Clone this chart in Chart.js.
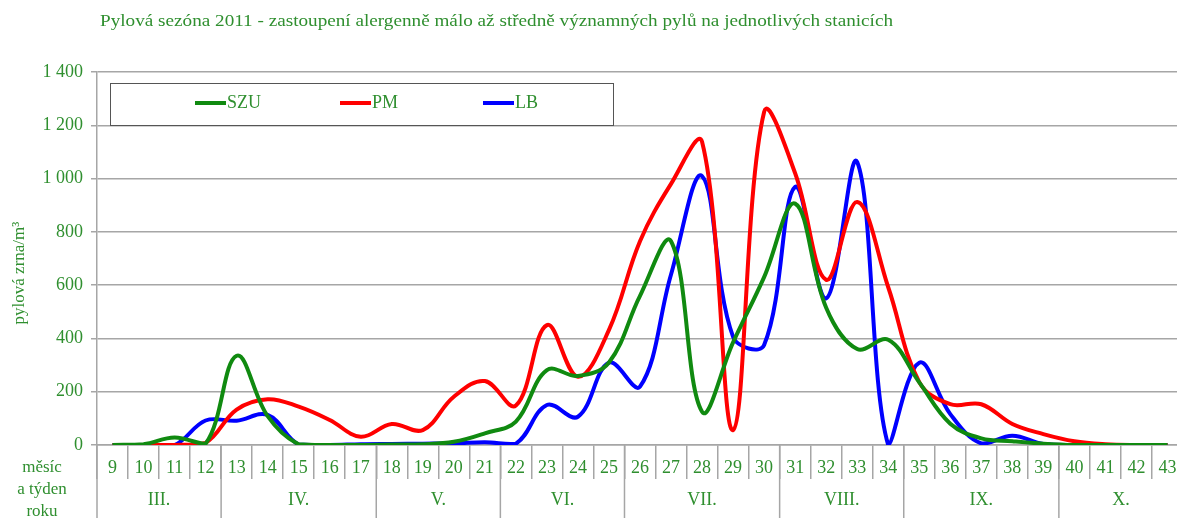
<!DOCTYPE html>
<html><head><meta charset="utf-8">
<script src="https://cdn.jsdelivr.net/npm/chart.js@4.4.0/dist/chart.umd.min.js"></script>
<style>
html,body{margin:0;padding:0;overflow:hidden;background:#fff;width:1177px;height:518px}
#wrap{position:relative;width:1184px;height:518px}
</style></head>
<body><div id="wrap"><canvas id="c" width="1184" height="518"></canvas></div>
<script>
const titleText = 'Pylová sezóna 2011 - zastoupení alergenně málo až středně významných pylů na jednotlivých stanicích';
const yTitle = 'pylová zrna/m³';
const weeks = ['9','10','11','12','13','14','15','16','17','18','19','20','21','22','23','24','25','26','27','28','29','30','31','32','33','34','35','36','37','38','39','40','41','42','43'];
const monthLabels = ['III.','IV.','V.','VI.','VII.','VIII.','IX.','X.'];
const monthFirstWeek = ['9','13','18','22','26','31','35','40'];
const yTicks = [0,200,400,600,800,1000,1200,1400];
const seriesNames = ['SZU','PM','LB'];
const SZU = [0,3,28,5,335,108,3,0,0,2,3,12,44,88,281,259,310,560,765,125,385,630,906,515,360,395,235,80,25,14,5,0,0,0,0];
const PM  = [0,0,0,8,133,172,144,94,31,79,56,181,240,148,450,256,432,765,980,1138,56,1250,1020,620,912,592,236,153,153,79,41,14,3,0,0];
const LB  = [0,0,0,92,91,113,2,0,3,4,5,6,10,5,150,106,309,219,640,1009,406,375,969,550,1062,0,309,116,6,35,4,0,0,0,0];
const lineColors = ['#108a10','#ff0000','#0000ff'];

const textGreen = '#2f8f2f';
const serif = '"Liberation Serif", "DejaVu Serif", serif';
const gridGray = '#a6a6a6';

const decor = {
  id: 'decor',
  afterDraw(chart) {
    const ctx = chart.ctx, ca = chart.chartArea, xs = chart.scales.x;
    ctx.save();
    // title (stretched to the reference's width)
    ctx.fillStyle = textGreen;
    ctx.font = '17px ' + serif;
    ctx.textAlign = 'left';
    ctx.textBaseline = 'alphabetic';
    const w = ctx.measureText(titleText).width;
    ctx.save();
    ctx.translate(100, 26);
    ctx.scale(793 / w, 1);
    ctx.fillText(titleText, 0, 0);
    ctx.restore();
    // y axis title
    ctx.save();
    ctx.translate(20, 273);
    ctx.rotate(-Math.PI / 2);
    ctx.textAlign = 'center';
    ctx.textBaseline = 'middle';
    ctx.font = '17px ' + serif;
    ctx.fillText(yTitle, 0, 0);
    ctx.restore();
    // left labels
    ctx.textAlign = 'center';
    ctx.textBaseline = 'middle';
    ctx.font = '17px ' + serif;
    ['měsíc', 'a týden', 'roku'].forEach((t, i) => ctx.fillText(t, 42, 468 + i * 22));
    // month separators and labels
    const half = (xs.getPixelForValue(1) - xs.getPixelForValue(0)) / 2;
    const starts = monthFirstWeek.map(w => weeks.indexOf(w));
    ctx.strokeStyle = gridGray;
    ctx.lineWidth = 1.5;
    starts.forEach((s, i) => {
      const x0 = xs.getPixelForValue(s) - half;
      const end = i + 1 < starts.length ? starts[i + 1] - 1 : weeks.length - 1;
      const x1 = xs.getPixelForValue(end) + half;
      ctx.beginPath();
      ctx.moveTo(x0, ca.bottom);
      ctx.lineTo(x0, 520);
      ctx.stroke();
      ctx.font = '18px ' + serif;
      ctx.fillStyle = textGreen;
      ctx.fillText(monthLabels[i], (x0 + x1) / 2, 500);
    });
    // legend box
    ctx.fillStyle = '#fff';
    ctx.fillRect(110, 83, 503, 42);
    ctx.strokeStyle = '#555';
    ctx.lineWidth = 1;
    ctx.strokeRect(110.5, 83.5, 503, 42);
    const lx = [195, 340, 483];
    chart.data.datasets.forEach((ds, i) => {
      ctx.strokeStyle = ds.borderColor;
      ctx.lineWidth = 4;
      ctx.beginPath();
      ctx.moveTo(lx[i], 103);
      ctx.lineTo(lx[i] + 31, 103);
      ctx.stroke();
      ctx.fillStyle = textGreen;
      ctx.font = '18px ' + serif;
      ctx.textAlign = 'left';
      ctx.textBaseline = 'middle';
      ctx.fillText(ds.label, lx[i] + 32, 103);
    });
    ctx.restore();
  }
};

const seriesData = [SZU, PM, LB];
new Chart(document.getElementById('c'), {
  type: 'line',
  data: {
    labels: weeks,
    datasets: seriesNames.map((n, i) => ({
      label: n,
      data: seriesData[i],
      borderColor: lineColors[i],
      backgroundColor: lineColors[i],
      borderWidth: 4,
      pointRadius: 0,
      tension: 0.38,
      fill: false
    }))
  },
  options: {
    responsive: false,
    animation: false,
    devicePixelRatio: 1,
    layout: { padding: { top: 72, left: 0, right: 1, bottom: 0 } },
    plugins: { legend: { display: false }, title: { display: false }, tooltip: { enabled: false } },
    scales: {
      x: {
        type: 'category',
        offset: true,
        grid: { offset: true, drawOnChartArea: false, drawTicks: true, tickLength: 34, color: gridGray, lineWidth: 1.5 },
        border: { display: true, color: gridGray, width: 1.5 },
        ticks: { color: textGreen, font: { family: serif, size: 18 }, padding: -22, maxRotation: 0, autoSkip: false },
        afterFit: s => { s.height = 73; }
      },
      y: {
        min: 0, max: 1400,
        afterBuildTicks: s => { s.ticks = yTicks.map(v => ({ value: v })); },
        ticks: {
          color: textGreen, font: { family: serif, size: 18 }, padding: 8,
          callback: v => String(v).replace(/\B(?=(\d{3})+(?!\d))/g, ' ')
        },
        grid: { color: gridGray, lineWidth: 1.5, tickLength: 6 },
        border: { display: true, color: gridGray, width: 1.5 },
        afterFit: s => { s.width = 97; }
      }
    }
  },
  plugins: [decor]
});
</script>
</body></html>
